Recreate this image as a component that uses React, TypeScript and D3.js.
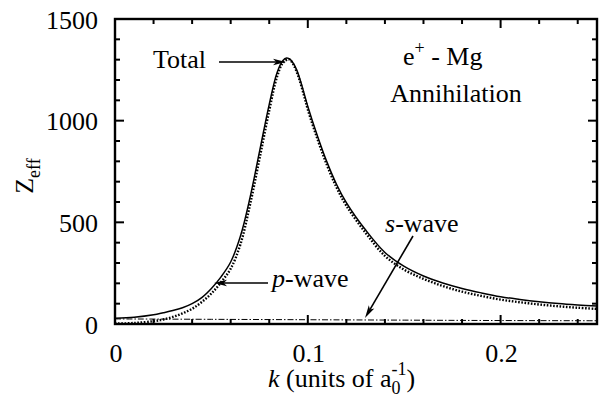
import React from "react";
import * as d3 from "d3";

const totalK = [0, 0.01, 0.02, 0.025, 0.03, 0.035, 0.04, 0.045, 0.05, 0.055, 0.06, 0.065, 0.07, 0.075, 0.08, 0.084, 0.087, 0.089, 0.091, 0.094, 0.097, 0.1, 0.105, 0.11, 0.115, 0.12, 0.13, 0.14, 0.15, 0.16, 0.17, 0.18, 0.19, 0.2, 0.21, 0.22, 0.23, 0.24, 0.25];
const totalZ = [28, 33, 45, 55, 66, 80, 100, 130, 175, 232, 305, 430, 620, 850, 1080, 1235, 1295, 1308, 1300, 1255, 1170, 1070, 925, 795, 685, 597, 462, 352, 283, 236, 202, 175, 153, 134, 121, 110, 101, 94, 88];

const pK = [0, 0.01, 0.02, 0.025, 0.03, 0.035, 0.04, 0.045, 0.05, 0.055, 0.06, 0.065, 0.07, 0.075, 0.08, 0.084, 0.087, 0.09, 0.092, 0.095, 0.098, 0.1, 0.105, 0.11, 0.115, 0.12, 0.13, 0.14, 0.15, 0.16, 0.17, 0.18, 0.19, 0.2, 0.21, 0.22, 0.23, 0.24, 0.25];
const pZ = [2, 5, 14, 22, 35, 52, 75, 108, 150, 205, 272, 390, 585, 815, 1050, 1215, 1283, 1302, 1285, 1220, 1125, 1055, 910, 780, 670, 582, 448, 335, 267, 222, 187, 159, 138, 120, 107, 96, 87, 80, 74];

const sK = [0, 0.05, 0.1, 0.15, 0.2, 0.25];
const sZ = [25, 23, 21, 19, 17, 16];

const xMajorTicks = [0, 0.1, 0.2];
const xMinorTicks = [0.02, 0.04, 0.06, 0.08, 0.12, 0.14, 0.16, 0.18, 0.22, 0.24];
const yMajorTicks = [0, 500, 1000, 1500];
const yMinorTicks = [100, 200, 300, 400, 600, 700, 800, 900, 1100, 1200, 1300, 1400];

function T(props: any) {
  const { children, ...rest } = props;
  return (
    <text style={{ fontFamily: "serif" }} fontSize={26} {...rest}>
      {children}
    </text>
  );
}

function Arrow({ x1, y1, x2, y2 }: { x1: number; y1: number; x2: number; y2: number }) {
  const ang = Math.atan2(y2 - y1, x2 - x1);
  const L = 13;
  const W = 3.2;
  const bx = x2 - L * Math.cos(ang);
  const by = y2 - L * Math.sin(ang);
  const nx = -Math.sin(ang);
  const ny = Math.cos(ang);
  const ix = x2 - (L * 0.75) * Math.cos(ang);
  const iy = y2 - (L * 0.75) * Math.sin(ang);
  const head = `M${x2},${y2} L${bx + nx * W},${by + ny * W} L${ix},${iy} L${bx - nx * W},${by - ny * W} Z`;
  return (
    <g>
      <line x1={x1} y1={y1} x2={ix} y2={iy} stroke="#000" strokeWidth={1.6} />
      <path d={head} fill="#000" />
    </g>
  );
}

export default function App() {
  const W = 599, H = 402;
  const x = d3.scaleLinear().domain([0, 0.25]).range([115, 597]);
  const y = d3.scaleLinear().domain([0, 1500]).range([324, 19]);

  const line = d3.line<[number, number]>()
    .x((d) => x(d[0]))
    .y((d) => y(d[1]))
    .curve(d3.curveCatmullRom.alpha(0.5));

  const totalPath = line(totalK.map((k, i) => [k, totalZ[i]] as [number, number])) || "";
  const pPath = line(pK.map((k, i) => [k, pZ[i]] as [number, number])) || "";
  const sPath = line(sK.map((k, i) => [k, sZ[i]] as [number, number])) || "";

  const [x0, x1] = x.range();
  const [y0, y1] = y.range();

  return (
    <svg width={W} height={H} style={{ position: "absolute", left: 0, top: 0, background: "#fff" }}>
      <defs>
        <clipPath id="plotclip">
          <rect x={x0} y={y1} width={x1 - x0} height={y0 - y1} />
        </clipPath>
      </defs>

      <g clipPath="url(#plotclip)">
        <path d={sPath} fill="none" stroke="#000" strokeWidth={1} strokeDasharray="6 2 1.5 2" />
        <path d={pPath} fill="none" stroke="#000" strokeWidth={2.4} strokeDasharray="1.6 1.6" />
        <path d={totalPath} fill="none" stroke="#000" strokeWidth={1.5} />
      </g>

      {xMajorTicks.map((t) => (
        <g key={"xm" + t}>
          <line x1={x(t)} x2={x(t)} y1={y0} y2={y0 - 9} stroke="#000" strokeWidth={2} />
          <line x1={x(t)} x2={x(t)} y1={y1} y2={y1 + 9} stroke="#000" strokeWidth={2} />
          <T x={x(t) + 1} y={362} textAnchor="middle">{t === 0 ? "0" : String(t)}</T>
        </g>
      ))}
      {xMinorTicks.map((t) => (
        <g key={"xn" + t}>
          <line x1={x(t)} x2={x(t)} y1={y0} y2={y0 - 5} stroke="#000" strokeWidth={2} />
          <line x1={x(t)} x2={x(t)} y1={y1} y2={y1 + 5} stroke="#000" strokeWidth={2} />
        </g>
      ))}
      {yMajorTicks.map((t) => (
        <g key={"ym" + t}>
          <line x1={x0} x2={x0 + 9} y1={y(t)} y2={y(t)} stroke="#000" strokeWidth={2} />
          <line x1={x1} x2={x1 - 9} y1={y(t)} y2={y(t)} stroke="#000" strokeWidth={2} />
          <T x={98} y={y(t) + 9.5} textAnchor="end">{t}</T>
        </g>
      ))}
      {yMinorTicks.map((t) => (
        <g key={"yn" + t}>
          <line x1={x0} x2={x0 + 5} y1={y(t)} y2={y(t)} stroke="#000" strokeWidth={2} />
          <line x1={x1} x2={x1 - 5} y1={y(t)} y2={y(t)} stroke="#000" strokeWidth={2} />
        </g>
      ))}

      <rect x={x0} y={y1} width={x1 - x0} height={y0 - y1} fill="none" stroke="#000" strokeWidth={2.4} />

      <T x={268} y={387}>
        <tspan fontStyle="italic">k</tspan>
        <tspan> (units of a</tspan>
        <tspan fontSize={18} dy={7}>0</tspan>
        <tspan fontSize={18} dx={-9} dy={-19}>-1</tspan>
        <tspan dy={12}>)</tspan>
      </T>
      <T transform="translate(33,176) rotate(-90)" textAnchor="middle">
        <tspan>Z</tspan>
        <tspan fontSize={18} dy={7}>eff</tspan>
      </T>

      <T x={153} y={68}>Total</T>
      <Arrow x1={219} y1={62} x2={286} y2={62} />

      <T x={272} y={287}>
        <tspan fontStyle="italic">p</tspan>
        <tspan>-wave</tspan>
      </T>
      <Arrow x1={268} y1={283} x2={214} y2={283} />

      <T x={385} y={232}>
        <tspan fontStyle="italic">s</tspan>
        <tspan>-wave</tspan>
      </T>
      <Arrow x1={413} y1={236} x2={365} y2={318} />

      <T x={403} y={65}>
        <tspan>e</tspan>
        <tspan fontSize={18} dy={-11}>+</tspan>
        <tspan dy={11}> - Mg</tspan>
      </T>
      <T x={456} y={102} textAnchor="middle">Annihilation</T>
    </svg>
  );
}
